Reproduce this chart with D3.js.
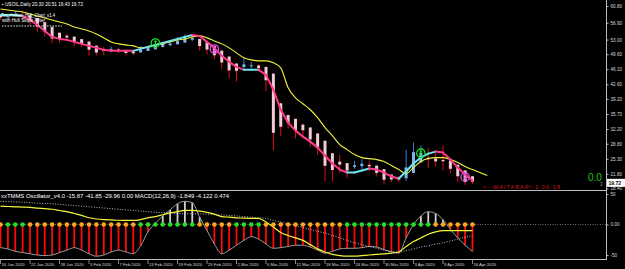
<!DOCTYPE html>
<html><head><meta charset="utf-8">
<script src="https://cdn.jsdelivr.net/npm/d3@7"></script>
<style>html,body{margin:0;padding:0;background:#000;overflow:hidden}svg{display:block}</style>
</head><body><svg id="c" width="625" height="269"></svg>
<script>
// ---------- DATA ----------
const dates = ["2020-01-16","2020-01-17","2020-01-20","2020-01-21","2020-01-22","2020-01-23","2020-01-24","2020-01-27","2020-01-28","2020-01-29","2020-01-30","2020-01-31",
"2020-02-03","2020-02-04","2020-02-05","2020-02-06","2020-02-07","2020-02-10","2020-02-11","2020-02-12","2020-02-13","2020-02-14","2020-02-17","2020-02-18","2020-02-19","2020-02-20","2020-02-21","2020-02-24","2020-02-25","2020-02-26","2020-02-27","2020-02-28",
"2020-03-02","2020-03-03","2020-03-04","2020-03-05","2020-03-06","2020-03-09","2020-03-10","2020-03-11","2020-03-12","2020-03-13","2020-03-16","2020-03-17","2020-03-18","2020-03-19","2020-03-20","2020-03-23","2020-03-24","2020-03-25","2020-03-26","2020-03-27","2020-03-30","2020-03-31",
"2020-04-01","2020-04-02","2020-04-03","2020-04-06","2020-04-07","2020-04-08","2020-04-09","2020-04-13","2020-04-14","2020-04-15","2020-04-16"];

// Heiken Ashi candles
const haOpen = [58.90,58.54,58.55,58.67,58.63,58.00,57.03,55.95,54.60,53.90,53.69,53.10,52.54,51.60,50.79,50.57,50.70,50.60,50.24,50.02,50.34,50.73,51.25,51.71,51.90,52.29,52.95,53.15,52.33,51.50,50.43,49.05,47.44,46.60,46.92,46.97,46.66,45.10,38.20,35.48,34.59,33.23,32.58,31.19,29.50,26.59,24.65,24.30,23.43,23.61,23.88,23.72,22.87,21.65,21.08,20.78,22.04,24.44,25.56,25.37,25.04,24.89,23.93,22.59,21.24];
const haClose = [58.18,58.55,58.80,58.58,57.38,56.05,54.88,53.25,53.20,53.48,52.50,51.98,50.65,49.98,50.35,50.83,50.53,49.88,49.80,50.65,51.13,51.78,52.18,52.08,52.68,53.60,53.35,51.50,50.68,49.35,47.68,45.83,45.75,47.25,47.03,46.35,43.55,31.33,32.75,33.70,31.88,31.93,29.80,27.80,23.68,22.70,23.95,22.55,23.80,24.15,23.55,22.03,20.43,20.50,20.48,23.30,26.83,26.68,25.18,24.70,24.73,22.98,21.25,19.88,19.99];
const haHigh = [58.90,59.00,59.70,59.70,58.63,58.00,57.03,55.95,54.60,54.30,53.69,53.10,52.54,51.60,51.30,51.40,51.10,50.60,50.30,51.50,51.60,52.30,52.50,52.60,53.50,54.20,53.80,53.15,52.33,51.50,50.43,49.05,47.44,48.70,47.80,47.30,46.66,45.10,38.20,35.48,34.59,33.50,32.58,31.19,29.50,26.59,26.20,24.30,24.80,25.20,24.70,23.72,22.87,21.65,21.20,27.40,29.10,28.40,27.80,26.60,28.40,24.89,23.93,22.59,21.24];
const haLow = [57.60,58.20,58.40,57.70,56.20,54.80,53.70,52.10,52.30,52.80,51.30,51.20,49.30,49.30,49.40,50.00,49.90,49.30,49.40,49.90,50.34,50.73,51.25,51.40,51.90,52.29,52.60,50.40,49.60,48.50,46.20,44.00,43.30,46.30,46.30,45.60,41.00,27.30,30.50,32.30,30.00,30.80,28.00,26.20,20.10,20.00,22.00,20.80,23.00,22.90,22.40,21.20,19.30,19.90,19.90,20.20,22.04,24.44,23.20,23.50,22.60,21.90,19.90,19.20,19.43];

// Hull line and its slope state per bar (u = up / cyan, d = down / pink)
const hull = [58.71,58.71,58.71,58.48,57.56,56.40,55.01,53.62,53.16,52.93,52.46,52.00,51.54,51.08,50.61,50.38,50.38,50.38,50.38,50.84,51.30,51.76,52.23,52.69,53.16,53.62,54.08,53.85,52.46,51.07,49.22,47.83,46.67,45.97,45.97,45.97,44.81,41.34,36.70,33.69,31.84,30.45,29.29,27.90,26.05,24.20,22.80,22.11,22.11,22.57,23.03,22.80,22.11,21.18,20.72,22.34,24.20,25.58,26.51,26.97,26.74,25.12,23.27,21.64,20.25];
const hullTrend = ["u","u","u","d","d","d","d","d","d","d","d","d","d","d","d","d","d","d","u","u","u","u","u","u","u","u","d","d","d","d","d","d","d","u","u","d","d","d","d","d","d","d","d","d","d","d","d","u","u","u","d","d","d","d","u","u","u","u","u","d","d","d","d","d","d"];
// Yellow moving average (extends two bars past the last candle)
const maLine = [60.10,59.87,59.64,59.41,58.95,58.48,58.02,57.56,57.10,56.63,55.93,55.47,55.01,54.32,53.39,52.46,52.00,51.76,51.53,51.07,51.30,51.76,52.00,52.46,52.92,53.15,53.62,53.85,53.39,52.69,52.00,51.07,49.91,48.75,48.29,48.06,48.06,47.59,46.44,41.80,39.48,38.09,36.70,34.85,32.53,30.68,28.59,27.44,26.28,25.58,25.35,25.12,24.66,23.73,22.80,21.87,23.27,24.66,25.35,25.58,25.58,25.12,24.42,23.50,22.80,22.11,21.41];
// Signal arrows (bar index, price, direction)
const signalBars = [21, 29, 57, 63];
const signalPrices = [52.2, 50.8, 26.6, 21.1];
const signalDirs = ["up","down","up","down"];

const priceTicks = [60.80,56.90,53.00,49.60,46.10,42.60,39.20,35.70,32.20,28.80,25.30,21.80,18.40];
const lastPrice = 19.72;

// Oscillator
const oscHist = [-38,-40,-44,-46,-48,-50,-51,-50,-46,-42,-38,-42,-48,-52,-50,-45,-42,-45,-48,-35,-12,2,14,24,34,38,36,12,-10,-32,-48,-42,-34,-26,-20,-24,-32,-39,-38,-36,-34,-34,-37,-42,-47,-44,-40,-39,-39,-38,-36,-37,-41,-45,-47,-22,0,14,21,18,8,-8,-22,-34,-44];
const oscSignal = [30,29.5,29,28.5,28,27,26,25,23,21,18,15,11,9,8,7.5,7,6.8,6.6,8,11,13,16,19,21,23,23,22,20,17,13,12,11,10.5,10,10,4,-4,-13,-18,-22,-26,-33,-40,-45,-49,-51,-52,-52,-51,-50,-49,-48,-47,-45,-36,-28,-22,-16,-12,-10,-10,-10,-10,-10];
const oscSlow = [38,37.5,37,36.5,36,35,34.5,34,33,32,31,30,29,28,27,26,25,24,23,22,21,20,19.5,19,18,17.8,17.5,17.2,17,16,15.5,15,14,13,12,11,10,7,4,1,-2,-5,-8,-11,-14,-18,-22,-26,-30,-33,-36,-39,-42,-44,-45,-43,-40,-37,-35,-32,-30,-27,-24,-21,-18];
const oscDots = ["o","g","g","g","o","o","o","o","o","o","o","o","o","o","o","o","o","o","o","g","g","g","g","g","g","g","g","o","o","o","o","o","g","g","g","g","o","o","o","o","o","o","o","o","o","o","o","g","g","g","g","g","g","g","g","g","g","g","g","o","o","o","o","o","o"];
const oscTicks = [50, 0, -50];
const oscTickLabels = ["50", "0.00", "-50"];

// ---------- DRAW ----------
const svg = d3.select("#c");
svg.append("rect").attr("width",625).attr("height",269).attr("fill","#000");
const FONT = "Liberation Sans, Arial, sans-serif";
const AXX = 606.5;

const x = d3.scaleLinear().domain([0, 64]).range([0.5, 472.5]);
const y = d3.scaleLinear().domain([18.4, 60.8]).range([188.5, 6]);
const yo = d3.scaleLinear().domain([-50, 50]).range([255, 194]);

const main = svg.append("g");

// candles
const candles = main.append("g");
haOpen.forEach((o, i) => {
  const c = haClose[i], bull = c >= o;
  candles.append("line").attr("x1", x(i)).attr("x2", x(i))
    .attr("y1", y(haHigh[i])).attr("y2", y(haLow[i]))
    .attr("stroke", bull ? "#2f7fe0" : "#e01010").attr("stroke-width", 1);
  const top = y(Math.max(o, c)), bot = y(Math.min(o, c));
  candles.append("rect").attr("x", x(i) - 1.5).attr("width", 3)
    .attr("y", top).attr("height", Math.max(1, bot - top))
    .attr("fill", bull ? "#7fb6e6" : "#f3c9d4");
});

// yellow MA
main.append("path").datum(maLine)
  .attr("d", d3.line().x((d, i) => x(i)).y(d => y(d)).curve(d3.curveMonotoneX))
  .attr("fill", "none").attr("stroke", "#f2f23a").attr("stroke-width", 1.1);

// hull line coloured by slope
hull.forEach((v, i) => {
  if (i === hull.length - 1) return;
  main.append("line").attr("x1", x(i)).attr("y1", y(v)).attr("x2", x(i + 1)).attr("y2", y(hull[i + 1]))
    .attr("stroke", hullTrend[i] === "u" ? "#6ee3ee" : "#ff3a8a").attr("stroke-width", 2)
    .attr("stroke-linecap", "round");
});

// signals
signalBars.forEach((b, k) => {
  const cx = x(b), cy = y(signalPrices[k]);
  const col = signalDirs[k] === "up" ? "#19e019" : "#e24ae2";
  main.append("circle").attr("cx", cx).attr("cy", cy).attr("r", 4.2)
    .attr("fill", "none").attr("stroke", col).attr("stroke-width", 1.3);
  const s = signalDirs[k] === "up" ? -1 : 1;
  main.append("path").attr("d", `M${cx},${cy - 2.5 * s}L${cx},${cy + 2.5 * s}M${cx - 1.6},${cy + 0.9 * s}L${cx},${cy + 2.5 * s}L${cx + 1.6},${cy + 0.9 * s}`)
    .attr("fill", "none").attr("stroke", col).attr("stroke-width", 1);
});

// header texts
main.append("text").attr("x", 2).attr("y", 6).attr("font-family", FONT).attr("font-size", 5)
  .attr("fill", "#fff").attr("textLength", 81).attr("lengthAdjust", "spacingAndGlyphs")
  .text("\u25AA USOIL,Daily  20.30 20.51 19.43 19.72");
main.append("text").attr("x", 1).attr("y", 16.5).attr("font-family", FONT).attr("font-size", 4.6)
  .attr("fill", "#fff").attr("textLength", 54).attr("lengthAdjust", "spacingAndGlyphs")
  .text("Tsx_Heiken_Hull_Chart_v1.4");
main.append("text").attr("x", 2).attr("y", 22).attr("font-family", FONT).attr("font-size", 4.6)
  .attr("fill", "#fff").attr("textLength", 43).attr("lengthAdjust", "spacingAndGlyphs")
  .text("with Hull Slope Filter");
main.append("line").attr("x1", 2).attr("x2", 62).attr("y1", 26).attr("y2", 26)
  .attr("stroke", "#cfe9ef").attr("stroke-width", 1).attr("stroke-dasharray", "1.6,1.2");

// countdown text
main.append("text").attr("x", 483).attr("y", 189).attr("font-family", FONT).attr("font-size", 5.5)
  .attr("fill", "#d21818").attr("textLength", 77).attr("lengthAdjust", "spacing")
  .text("<--WAITABAR!-1:00:18");
main.append("text").attr("x", 588).attr("y", 181).attr("font-family", FONT).attr("font-size", 10)
  .attr("fill", "#1ec81e").text("0.0");
main.append("text").attr("x", 600).attr("y", 186).attr("font-family", FONT).attr("font-size", 4.5)
  .attr("fill", "#999").text("3");

// ---------- OSCILLATOR ----------
const osc = svg.append("g");
osc.append("line").attr("x1", 0).attr("x2", AXX).attr("y1", yo(0)).attr("y2", yo(0))
  .attr("stroke", "#8a8a8a").attr("stroke-width", 0.8).attr("stroke-dasharray", "1,1.5");
oscHist.forEach((v, i) => {
  osc.append("line").attr("x1", x(i)).attr("x2", x(i)).attr("y1", yo(0)).attr("y2", yo(v))
    .attr("stroke", v < 0 ? "#ff0a0a" : "#cfcfcf").attr("stroke-width", 1.8);
});
osc.append("path").datum(oscHist)
  .attr("d", d3.line().x((d, i) => x(i)).y(d => yo(d)).curve(d3.curveMonotoneX))
  .attr("fill", "none").attr("stroke", "#9a9a9a").attr("stroke-width", 1);
osc.append("path").datum(oscSlow)
  .attr("d", d3.line().x((d, i) => x(i)).y(d => yo(d)).curve(d3.curveMonotoneX))
  .attr("fill", "none").attr("stroke", "#e8e8e8").attr("stroke-width", 0.8).attr("stroke-dasharray", "1,1.6");
osc.append("path").datum(oscSignal)
  .attr("d", d3.line().x((d, i) => x(i)).y(d => yo(d)).curve(d3.curveMonotoneX))
  .attr("fill", "none").attr("stroke", "#f5f53c").attr("stroke-width", 1.2);
oscDots.forEach((c, i) => {
  osc.append("circle").attr("cx", x(i)).attr("cy", yo(0)).attr("r", 2.3)
    .attr("fill", c === "g" ? "#22e022" : "#ffa51e");
});
osc.append("text").attr("x", 1).attr("y", 197.5).attr("font-family", FONT).attr("font-size", 4.6)
  .attr("fill", "#fff").attr("textLength", 228).attr("lengthAdjust", "spacingAndGlyphs")
  .text("xxTMMS Oscillator_v4.0 -15.87 -41.85 -29.96 0.00  MACD(12,26,9) -1.849 -4.122 0.474");

// ---------- FRAME & AXES ----------
const frame = svg.append("g").attr("stroke", "#bdbdbd").attr("stroke-width", 1);
frame.append("line").attr("x1", 0).attr("x2", AXX).attr("y1", 190.5).attr("y2", 190.5);
frame.append("line").attr("x1", 0).attr("x2", AXX).attr("y1", 259.5).attr("y2", 259.5);
frame.append("line").attr("x1", AXX).attr("x2", AXX).attr("y1", 0).attr("y2", 260);

const yAxis = d3.axisRight(y).tickValues(priceTicks).tickFormat(d3.format(".2f")).tickSize(2).tickPadding(2);
const ga = svg.append("g").attr("transform", `translate(${AXX},0)`).call(yAxis);
ga.select(".domain").remove();
ga.selectAll("line").attr("stroke", "#bdbdbd");
ga.selectAll("text").attr("fill", "#d8d8d8").attr("font-family", FONT).attr("font-size", 4.6);

const oAxis = d3.axisRight(yo).tickValues(oscTicks).tickFormat((d, i) => oscTickLabels[i]).tickSize(2).tickPadding(2);
const go = svg.append("g").attr("transform", `translate(${AXX},0)`).call(oAxis);
go.select(".domain").remove();
go.selectAll("line").attr("stroke", "#bdbdbd");
go.selectAll("text").attr("fill", "#d8d8d8").attr("font-family", FONT).attr("font-size", 4.6);

// price box
svg.append("rect").attr("x", 607).attr("y", y(lastPrice) - 4).attr("width", 18).attr("height", 8).attr("fill", "#fff");
svg.append("text").attr("x", 608.5).attr("y", y(lastPrice) + 2).attr("font-family", FONT).attr("font-size", 5)
  .attr("font-weight", "bold").attr("fill", "#000").text(lastPrice.toFixed(2));

// x axis date labels every 4 bars
const fmt = d3.timeFormat("%-d %b %Y");
const parse = d3.timeParse("%Y-%m-%d");
const xa = svg.append("g");
dates.forEach((d, i) => {
  if (i % 4 !== 0) return;
  xa.append("line").attr("x1", x(i)).attr("x2", x(i)).attr("y1", 260).attr("y2", 264)
    .attr("stroke", "#bdbdbd").attr("stroke-width", 0.7);
  xa.append("text").attr("x", x(i) + 1).attr("y", 266).attr("font-family", FONT).attr("font-size", 4.2)
    .attr("fill", "#d8d8d8").text(fmt(parse(d)));
});
</script></body></html>
